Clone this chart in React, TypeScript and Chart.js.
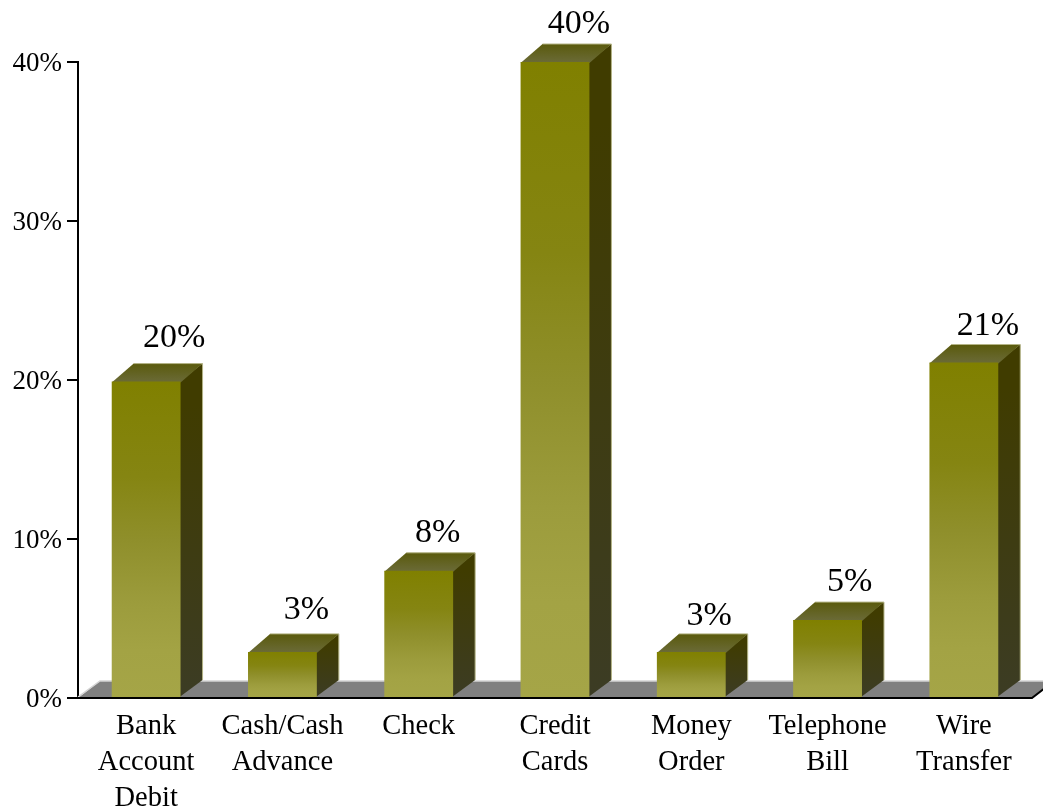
import React, { useEffect, useRef } from "react";
import { Chart, registerables } from "chart.js";

Chart.register(...registerables);

const categories = [
  ["Bank", "Account", "Debit"],
  ["Cash/Cash", "Advance"],
  ["Check"],
  ["Credit", "Cards"],
  ["Money", "Order"],
  ["Telephone", "Bill"],
  ["Wire", "Transfer"],
];
const shares = [19.9, 2.9, 8, 40, 2.9, 4.9, 21.1];
const yTicks = [0, 10, 20, 30, 40];

const SERIF = '"Liberation Serif", "Times New Roman", serif';
const DX = 22;
const TOP_DY = 18;
const FLOOR_DY = 17;
// small per-label nudges of the value labels, as placed in the reference
const labelNudgeX = [28, 24, 19, 24, 18, 22, 24];
const labelNudgeY = [35, 33, 29, 29, 27, 29, 28];

const depthPlugin = {
  id: "depth",
  beforeDatasetsDraw(chart: any) {
    const { ctx, chartArea: a } = chart;
    const meta = chart.getDatasetMeta(0);
    const bottom = a.bottom;
    ctx.save();
    // floor
    ctx.fillStyle = "#808080";
    ctx.beginPath();
    ctx.moveTo(a.left, bottom);
    ctx.lineTo(a.left + DX, bottom - FLOOR_DY);
    ctx.lineTo(a.right + DX, bottom - FLOOR_DY);
    ctx.lineTo(a.right, bottom);
    ctx.closePath();
    ctx.fill();
    ctx.strokeStyle = "#d4d4d4";
    ctx.lineWidth = 1.5;
    ctx.beginPath();
    ctx.moveTo(a.left, bottom - 1);
    ctx.lineTo(a.left + DX, bottom - FLOOR_DY);
    ctx.lineTo(a.right + DX, bottom - FLOOR_DY);
    ctx.stroke();
    // black front edge of the floor
    ctx.strokeStyle = "#000";
    ctx.lineWidth = 2;
    ctx.beginPath();
    ctx.moveTo(a.left, bottom);
    ctx.lineTo(a.right, bottom);
    ctx.lineTo(a.right + DX, bottom - FLOOR_DY);
    ctx.stroke();

    meta.data.forEach((bar: any) => {
      const p = bar.getProps(["x", "y", "base", "width"], true);
      const l = p.x - p.width / 2;
      const r = p.x + p.width / 2;
      // side
      const gs = ctx.createLinearGradient(0, p.y - TOP_DY, 0, p.base);
      gs.addColorStop(0, "#403c00");
      gs.addColorStop(0.12, "#403c00");
      gs.addColorStop(1, "#3c3c24");
      ctx.fillStyle = gs;
      ctx.beginPath();
      ctx.moveTo(r - 1, p.y);
      ctx.lineTo(r + DX, p.y - TOP_DY);
      ctx.lineTo(r + DX, p.base - FLOOR_DY);
      ctx.lineTo(r - 1, p.base);
      ctx.closePath();
      ctx.fill();
      // top
      const gt = ctx.createLinearGradient(0, p.y - TOP_DY, 0, p.y);
      gt.addColorStop(0, "#5a5a0c");
      gt.addColorStop(1, "#6a6a36");
      ctx.fillStyle = gt;
      ctx.beginPath();
      ctx.moveTo(l, p.y + 1);
      ctx.lineTo(l + DX, p.y - TOP_DY);
      ctx.lineTo(r + DX, p.y - TOP_DY);
      ctx.lineTo(r, p.y + 1);
      ctx.closePath();
      ctx.fill();
      // pale rim on the far edges
      ctx.strokeStyle = "#b4b486";
      ctx.lineWidth = 1;
      ctx.beginPath();
      ctx.moveTo(l + DX, p.y - TOP_DY);
      ctx.lineTo(r + DX, p.y - TOP_DY);
      ctx.lineTo(r + DX, p.base - FLOOR_DY);
      ctx.stroke();
    });
    ctx.restore();
  },
  afterDatasetsDraw(chart: any) {
    const { ctx } = chart;
    const meta = chart.getDatasetMeta(0);
    ctx.save();
    ctx.fillStyle = "#000";
    ctx.font = `34px ${SERIF}`;
    ctx.textAlign = "center";
    ctx.textBaseline = "alphabetic";
    meta.data.forEach((bar: any, i: number) => {
      ctx.fillText(`${Math.round(shares[i])}%`, bar.x + labelNudgeX[i], bar.y - labelNudgeY[i]);
    });
    ctx.restore();
  },
};

export default function App() {
  const ref = useRef<HTMLCanvasElement>(null);

  useEffect(() => {
    document.body.style.margin = "0";
    const chart = new Chart(ref.current as HTMLCanvasElement, {
      type: "bar",
      data: {
        labels: categories as any,
        datasets: [
          {
            data: shares,
            categoryPercentage: 1,
            barPercentage: 0.505,
            backgroundColor: (c: any) => {
              const { chart: ch, dataIndex } = c;
              const s = ch.scales?.y;
              if (!s || dataIndex === undefined) return "#8f8f20";
              const top = s.getPixelForValue(shares[dataIndex]);
              const bottom = s.getPixelForValue(0);
              if (!Number.isFinite(top) || !Number.isFinite(bottom)) return "#8f8f20";
              const g = ch.ctx.createLinearGradient(0, top, 0, bottom);
              g.addColorStop(0, "#808000");
              g.addColorStop(0.3, "#858512");
              g.addColorStop(0.5, "#8f8f2b");
              g.addColorStop(0.7, "#9c9c3c");
              g.addColorStop(0.85, "#a3a344");
              g.addColorStop(1, "#a5a547");
              return g;
            },
          },
        ],
      },
      options: {
        animation: false,
        responsive: false,
        layout: { padding: { top: 62, right: 11, left: 0, bottom: 0 } },
        plugins: { legend: { display: false }, tooltip: { enabled: false } },
        scales: {
          x: {
            afterFit: (s: any) => { s.height = 113; },
            grid: { display: false },
            border: { display: false },
            ticks: {
              autoSkip: false,
              maxRotation: 0,
              minRotation: 0,
              padding: 3,
              labelOffset: 0,
              color: "#000",
              font: { family: SERIF, size: 28.5, lineHeight: 1.263 },
            },
          },
          y: {
            min: 0,
            max: 40,
            afterFit: (s: any) => { s.width = 78; },
            afterBuildTicks: (s: any) => { s.ticks = yTicks.map((value) => ({ value })); },
            grid: { drawOnChartArea: false, drawTicks: true, tickLength: 11, color: "#000", lineWidth: 2 },
            border: { display: true, color: "#000", width: 2 },
            ticks: {
              padding: 5,
              labelOffset: 2,
              color: "#000",
              font: { family: SERIF, size: 27 },
              callback: (v: any) => `${v}%`,
            },
          },
        },
      },
      plugins: [depthPlugin],
    } as any);
    return () => chart.destroy();
  }, []);

  return <canvas ref={ref} width={1043} height={811} style={{ display: "block", width: 1043, height: 811 }} />;
}
